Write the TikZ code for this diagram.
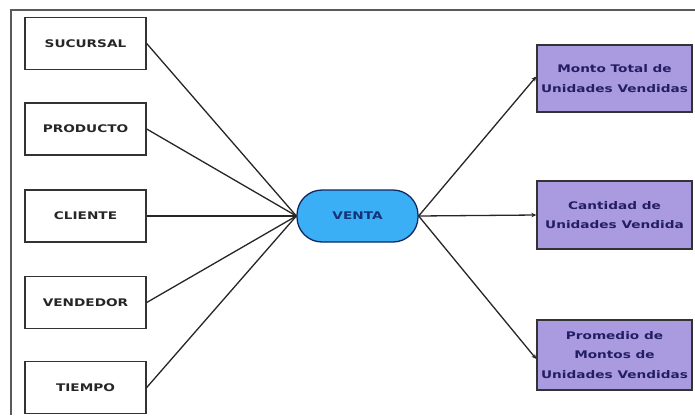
\documentclass[tikz,border=0pt]{standalone}
\usepackage{fontspec}
\newfontfamily\dfont{DejaVu Sans}[FakeStretch=1.3]
\usetikzlibrary{arrows.meta}
\definecolor{purplefill}{RGB}{170,155,225}
\definecolor{bluefill}{RGB}{58,175,245}
\definecolor{navytext}{RGB}{35,30,100}
\definecolor{ventatext}{RGB}{20,50,120}
\definecolor{framegray}{RGB}{90,90,90}
\tikzset{
  dimbox/.style={draw=black!80, line width=1.4pt, fill=white, minimum width=121pt, minimum height=52pt, inner sep=0pt,
    font=\dfont\bfseries\fontsize{10.5}{19.5}\selectfont, text=black!85},
  factbox/.style={draw=black!80, line width=1.4pt, fill=purplefill, minimum width=155pt, inner sep=0pt, align=center,
    font=\dfont\bfseries\fontsize{10.5}{19.5}\selectfont, text=navytext},
  ventabox/.style={draw=ventatext!80!black, line width=1.3pt, fill=bluefill, minimum width=121pt, minimum height=52pt,
    rounded corners=25pt, inner sep=0pt, font=\dfont\bfseries\fontsize{10.5}{19.5}\selectfont, text=ventatext},
  link/.style={draw=black!85, line width=1.3pt},
  arrowlink/.style={link, -{Stealth[length=5pt,width=4.5pt]}}
}
\begin{document}
\begin{tikzpicture}[x=1pt,y=-1pt]
\useasboundingbox (0,0) rectangle (695,415);
\fill[white] (0,0) rectangle (695,415);
\coordinate (ftop) at (695,10);
\coordinate (fcorner) at (11,10);
\coordinate (fbot) at (11,415);
\draw[framegray, line width=1.4pt] (ftop) -- (fcorner) -- (fbot);

\node[dimbox] (suc) at (85.5,43.5) {SUCURSAL};
\node[dimbox] (prod) at (85.5,129) {PRODUCTO};
\node[dimbox] (cli) at (85.5,216) {CLIENTE};
\node[dimbox] (ven) at (85.5,302.5) {VENDEDOR};
\node[dimbox] (tie) at (85.5,387.5) {TIEMPO};

\node[ventabox] (venta) at (357.5,216) {VENTA};

\node[factbox, minimum height=67pt] (m1) at (614.5,78.5) {Monto Total de\\Unidades Vendidas};
\node[factbox, minimum height=68pt] (m2) at (614.5,215) {Cantidad de\\Unidades Vendida};
\node[factbox, minimum height=70pt] (m3) at (614.5,355) {Promedio de\\Montos de\\Unidades Vendidas};

\foreach \n in {suc,prod,cli,ven,tie}
  \draw[link] (\n.east) -- (venta.west);

\draw[arrowlink] (venta.east) -- ([yshift=2pt]m1.west);
\draw[arrowlink] (venta.east) -- (m2.west);
\draw[arrowlink] (venta.east) -- ([yshift=-4pt]m3.west);
\end{tikzpicture}
\end{document}
